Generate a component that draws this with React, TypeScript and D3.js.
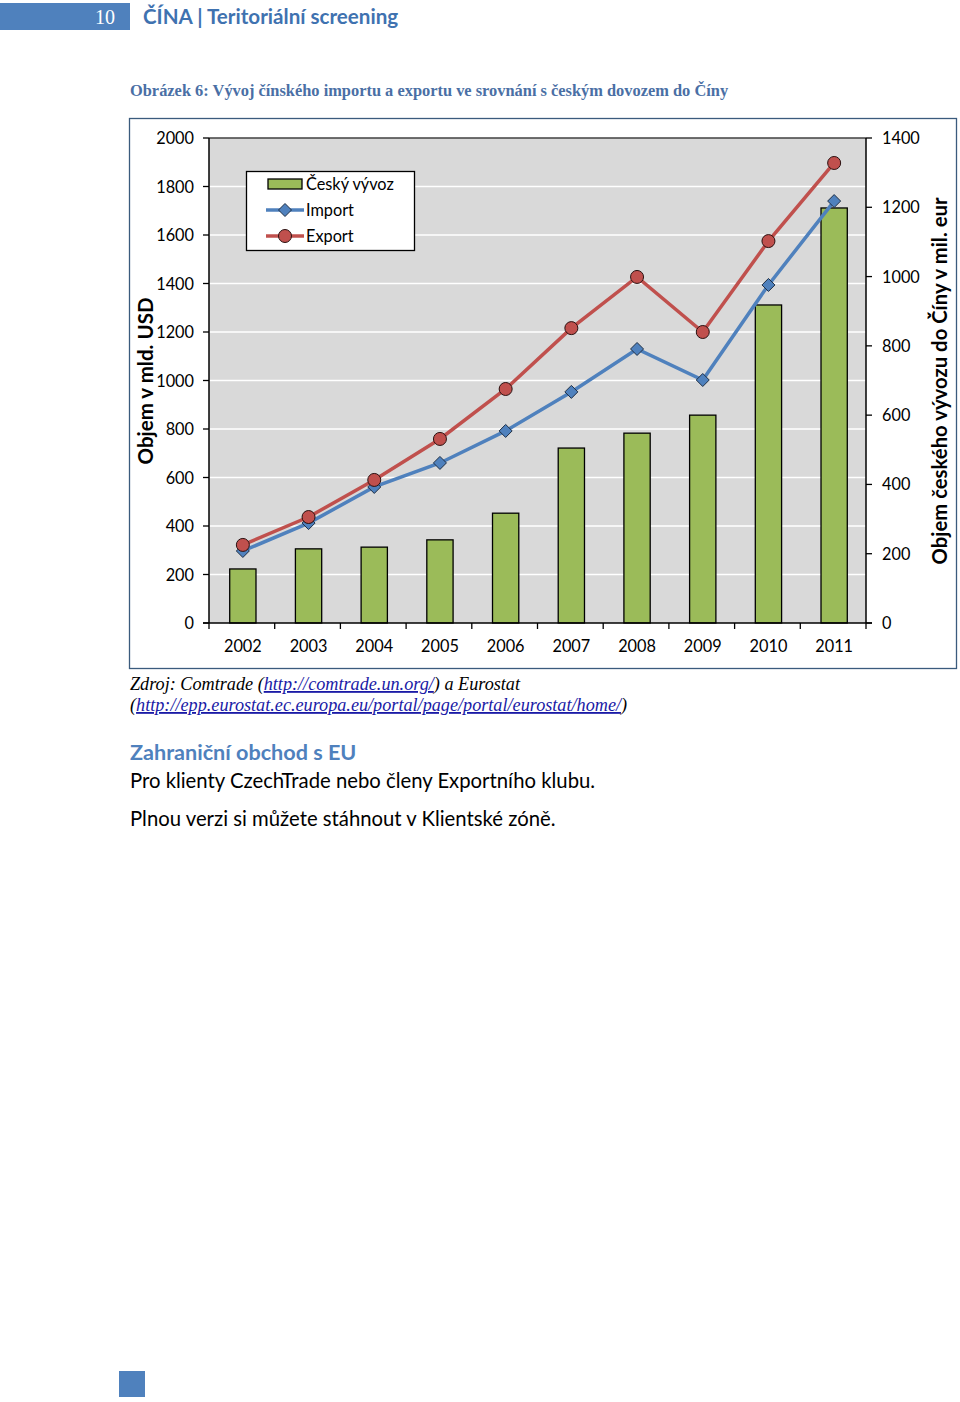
import React from "react";
import * as d3 from "d3";

const years = ["2002", "2003", "2004", "2005", "2006", "2007", "2008", "2009", "2010", "2011"];
const czechExport = [156, 214, 219, 240, 317, 505, 548, 600, 918, 1198];
const importValues = [297, 412, 561, 660, 792, 953, 1130, 1002, 1394, 1740];
const exportValues = [322, 437, 590, 759, 965, 1216, 1427, 1200, 1575, 1897];
const leftTicks = [0, 200, 400, 600, 800, 1000, 1200, 1400, 1600, 1800, 2000];
const rightTicks = [0, 200, 400, 600, 800, 1000, 1200, 1400];

const SANS = "Lato, 'Open Sans', sans-serif";
const SERIF = "'Liberation Serif', 'DejaVu Serif', serif";
const BLUE = "#4f81bd";
const RED = "#c0504d";
const GREEN = "#9bbb59";

export default function App() {
  const left = 209, right = 866, top = 138, bottom = 623;
  const x = d3.scaleBand<string>().domain(years).range([left, right]).padding(0);
  const yL = d3.scaleLinear().domain([0, 2000]).range([bottom, top]);
  const yR = d3.scaleLinear().domain([0, 1400]).range([bottom, top]);
  const bw = x.bandwidth() * 0.4;
  const cx = (y: string) => (x(y) as number) + x.bandwidth() / 2 + 1;
  const line = d3.line<number>().x((_, i) => cx(years[i])).y((v) => yL(v));
  const diamond = (px: number, py: number, s = 6.5) =>
    `M${px},${py - s}L${px + s},${py}L${px},${py + s}L${px - s},${py}Z`;

  return (
    <svg width={960} height={1402} style={{ position: "absolute", left: 0, top: 0 }}>
      <rect x={0} y={0} width={960} height={1402} fill="#fff" />
      {/* header */}
      <rect x={0} y={3} width={130} height={27} fill={BLUE} />
      <text x={115} y={24} textAnchor="end" fill="#fff" fontFamily={SERIF} fontSize={20}>10</text>
      <text x={143} y={24} fill="#3f72b0" fontFamily={SANS} fontWeight="bold" fontSize={20.6}>ČÍNA | Teritoriální screening</text>
      {/* caption */}
      <text x={130} y={96} fill="#4a6fa5" fontFamily={SERIF} fontWeight="bold" fontSize={16.4}>
        Obrázek 6: Vývoj čínského importu a exportu ve srovnání s českým dovozem do Číny
      </text>
      {/* chart border */}
      <rect x={129.5} y={118.5} width={827} height={550} fill="#fff" stroke="#3b5b7d" strokeWidth={1.3} />
      {/* plot area */}
      <rect x={left} y={top} width={right - left} height={bottom - top} fill="#d9d9d9" />
      {leftTicks.filter((t) => t > 0 && t < 2000).map((t) => (
        <line key={"g" + t} x1={left} x2={right} y1={yL(t)} y2={yL(t)} stroke="#fff" strokeWidth={1.5} />
      ))}
      <line x1={left} x2={right} y1={top} y2={top} stroke="#404040" strokeWidth={1.5} />
      {/* bars */}
      {years.map((yr, i) => (
        <rect key={"b" + yr} x={cx(yr) - bw / 2} y={yR(czechExport[i])} width={bw} height={bottom - yR(czechExport[i])}
          fill={GREEN} stroke="#000" strokeWidth={1.3} />
      ))}
      {/* lines */}
      <path d={line(importValues) || ""} fill="none" stroke={BLUE} strokeWidth={3.5} />
      <path d={line(exportValues) || ""} fill="none" stroke={RED} strokeWidth={3.5} />
      {importValues.map((v, i) => (
        <path key={"d" + i} d={diamond(cx(years[i]), yL(v))} fill={BLUE} stroke="#1f2f45" strokeWidth={1} />
      ))}
      {exportValues.map((v, i) => (
        <circle key={"c" + i} cx={cx(years[i])} cy={yL(v)} r={6.5} fill={RED} stroke="#2a1010" strokeWidth={1} />
      ))}
      {/* axes */}
      <line x1={left} x2={left} y1={top} y2={bottom} stroke="#000" strokeWidth={1.5} />
      <line x1={right} x2={right} y1={top} y2={bottom} stroke="#000" strokeWidth={1.5} />
      <line x1={left - 6} x2={right + 6} y1={bottom} y2={bottom} stroke="#000" strokeWidth={1.5} />
      {leftTicks.map((t) => (
        <g key={"l" + t}>
          <line x1={left - 6} x2={left} y1={yL(t)} y2={yL(t)} stroke="#000" strokeWidth={1.3} />
          <text x={194} y={yL(t) + 6} textAnchor="end" fontFamily={SANS} fontSize={16.3} fill="#000">{t}</text>
        </g>
      ))}
      {rightTicks.map((t) => (
        <g key={"r" + t}>
          <line x1={right} x2={right + 6} y1={yR(t)} y2={yR(t)} stroke="#000" strokeWidth={1.3} />
          <text x={882} y={yR(t) + 6} textAnchor="start" fontFamily={SANS} fontSize={16.3} fill="#000">{t}</text>
        </g>
      ))}
      {years.map((yr) => (
        <line key={"xt" + yr} x1={x(yr) as number} x2={x(yr) as number} y1={bottom} y2={bottom + 6} stroke="#000" strokeWidth={1.3} />
      ))}
      <line x1={right} x2={right} y1={bottom} y2={bottom + 6} stroke="#000" strokeWidth={1.3} />
      {years.map((yr) => (
        <text key={"xl" + yr} x={cx(yr)} y={652} textAnchor="middle" fontFamily={SANS} fontSize={16.3} fill="#000">{yr}</text>
      ))}
      {/* axis titles */}
      <text transform="translate(153,381) rotate(-90)" textAnchor="middle" fontFamily={SANS} fontWeight="bold" fontSize={20.5} fill="#000">Objem v mld. USD</text>
      <text transform="translate(947,381) rotate(-90)" textAnchor="middle" fontFamily={SANS} fontWeight="bold" fontSize={20.3} fill="#000">Objem českého vývozu do Číny v mil. eur</text>
      {/* legend */}
      <rect x={246.5} y={171.5} width={168} height={79} fill="#fff" stroke="#000" strokeWidth={1.3} />
      <rect x={268} y={179} width={34} height={10} fill={GREEN} stroke="#000" strokeWidth={1.3} />
      <text x={306} y={190} fontFamily={SANS} fontSize={16.3} fill="#000">Český vývoz</text>
      <line x1={266} x2={304} y1={210} y2={210} stroke={BLUE} strokeWidth={3.5} />
      <path d={diamond(285, 210)} fill={BLUE} stroke="#1f2f45" strokeWidth={1} />
      <text x={306} y={216} fontFamily={SANS} fontSize={16.3} fill="#000">Import</text>
      <line x1={266} x2={304} y1={236} y2={236} stroke={RED} strokeWidth={3.5} />
      <circle cx={285} cy={236} r={6.5} fill={RED} stroke="#2a1010" strokeWidth={1} />
      <text x={306} y={242} fontFamily={SANS} fontSize={16.3} fill="#000">Export</text>
      {/* source */}
      <text x={130} y={690} fontFamily={SERIF} fontStyle="italic" fontSize={18.2} fill="#000">
        Zdroj: Comtrade (<tspan fill="#1a1aa6" textDecoration="underline">http://comtrade.un.org/</tspan>) a Eurostat
      </text>
      <text x={130} y={711} fontFamily={SERIF} fontStyle="italic" fontSize={18.2} fill="#000">
        (<tspan fill="#1a1aa6" textDecoration="underline">http://epp.eurostat.ec.europa.eu/portal/page/portal/eurostat/home/</tspan>)
      </text>
      <text x={130} y={760} fontFamily={SANS} fontWeight="bold" fontSize={21.6} fill="#4f81bd">Zahraniční obchod s EU</text>
      <text x={130} y={788} fontFamily={SANS} fontSize={20.3} fill="#000">Pro klienty CzechTrade nebo členy Exportního klubu.</text>
      <text x={130} y={826} fontFamily={SANS} fontSize={20.3} fill="#000">Plnou verzi si můžete stáhnout v Klientské zóně.</text>
      {/* footer square */}
      <rect x={119} y={1371} width={26} height={26} fill={BLUE} />
    </svg>
  );
}
